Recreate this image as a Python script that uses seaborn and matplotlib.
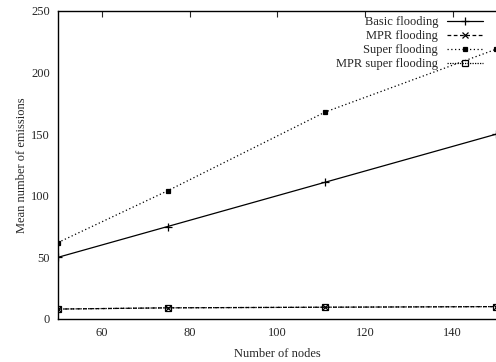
import pandas as pd
import matplotlib
matplotlib.use("Agg")
import matplotlib.pyplot as plt
import seaborn as sns

# values
nodes = [50, 75, 111, 150]
basic = [50, 75, 111, 150]
mpr = [8, 9, 9.5, 10]
super_fl = [62, 104, 168, 219]
mpr_super = [8, 9, 9.5, 10]

series_names = ["Basic flooding", "MPR flooding", "Super flooding", "MPR super flooding"]

df = pd.DataFrame({
    "nodes": nodes * 4,
    "emissions": basic + mpr + super_fl + mpr_super,
    "series": [n for n in series_names for _ in nodes],
})

sns.set_style("white")
plt.rcParams["font.family"] = ["Liberation Serif", "DejaVu Serif"]
plt.rcParams["font.size"] = 9

fig = plt.figure(figsize=(4.96, 3.62), dpi=100)
ax = fig.add_axes([0.117, 0.119, 0.884, 0.851])

styles = {
    "Basic flooding": dict(ls="-", marker="+", ms=6, mfc="none"),
    "MPR flooding": dict(ls=(0, (3, 2)), marker="x", ms=4, mfc="none"),
    "Super flooding": dict(ls=(0, (1, 2)), marker="s", ms=3.5),
    "MPR super flooding": dict(ls=(0, (1, 1)), marker="s", ms=4.5, mfc="none"),
}

for name in series_names:
    sub = df[df["series"] == name]
    st = styles[name]
    sns.lineplot(data=sub, x="nodes", y="emissions", ax=ax, color="black",
                 linestyle=st["ls"], marker=st["marker"], markersize=st["ms"],
                 markerfacecolor=st.get("mfc", "black"), markeredgecolor="black",
                 markeredgewidth=0.9, linewidth=0.9, label=name)

ax.set_xlim(50, 150)
ax.set_ylim(0, 250)
ax.set_xticks([60, 80, 100, 120, 140])
ax.set_yticks([0, 50, 100, 150, 200, 250])
ax.tick_params(direction="in", length=4, width=0.8, top=True, right=False,
               labelsize=9, pad=6)
for s in ax.spines.values():
    s.set_linewidth(1.0)
    s.set_color("black")
ax.spines["right"].set_visible(False)

ax.set_xlabel("Number of nodes", fontsize=9, labelpad=6)
ax.set_ylabel("Mean number of emissions", fontsize=9, labelpad=2)

leg = ax.legend(loc="upper right", bbox_to_anchor=(0.975, 0.99), frameon=False,
                markerfirst=False, fontsize=9, handlelength=2.9,
                labelspacing=0.15, borderaxespad=0.0, borderpad=0.2,
                handletextpad=0.7)
for t in leg.get_texts():
    t.set_ha("right")
leg._legend_box.align = "right"

fig.savefig("out.png", dpi=100)
